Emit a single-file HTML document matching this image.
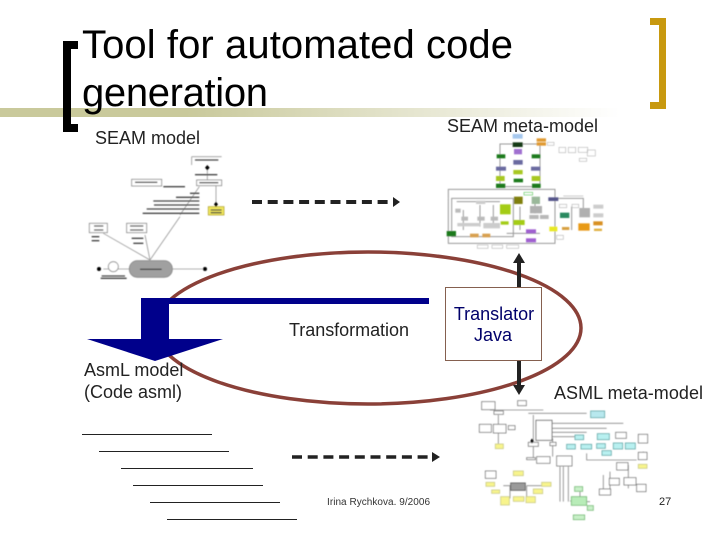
<!DOCTYPE html>
<html><head><meta charset="utf-8"><style>
html,body{margin:0;padding:0;background:#fff}
svg{display:block}
text{font-family:"Liberation Sans",sans-serif}
</style></head><body>
<svg width="720" height="540" viewBox="0 0 720 540" xmlns="http://www.w3.org/2000/svg">
<defs>
<linearGradient id="b" x1="0" x2="1" y1="0" y2="0"><stop offset="0" stop-color="#c9c99b"/><stop offset=".3" stop-color="#c9c99b"/><stop offset="1" stop-color="#fff"/></linearGradient>
<filter id="s" x="-5%" y="-5%" width="110%" height="110%"><feGaussianBlur stdDeviation="1.8"/></filter>
</defs>
<rect width="720" height="540" fill="#fff"/>
<rect x="0" y="108" width="620" height="9" fill="url(#b)"/>
<path d="M78 41H63V132H78V124H71V49H78Z" fill="#000"/>
<path d="M650 18H666V109H650V102H659V25H650Z" fill="#c8990f"/>
<text x="82" y="58" font-size="40" fill="#000" textLength="431">Tool for automated code</text>
<text x="82" y="106" font-size="40" fill="#000" textLength="186">generation</text>
<text x="95" y="144" font-size="18" fill="#222">SEAM model</text>
<text x="447" y="132" font-size="18" fill="#222" textLength="151">SEAM meta-model</text>

<!-- SEAM model thumbnail -->
<g transform="translate(80,150) scale(.3333)" filter="url(#s)" fill="#fff" stroke="#888" stroke-width="2.5">
<path d="M335 20V45M335 20H425M382 45V90M408 107V170M358 110L300 195M300 200L210 330M195 255L210 330M70 250L210 330M277 357H372M70 357H148" fill="none" stroke="#999"/>
<rect x="350" y="90" width="75" height="17"/><rect x="155" y="88" width="90" height="20"/>
<rect x="28" y="220" width="54" height="28"/><rect x="140" y="220" width="60" height="28"/>
<rect x="385" y="170" width="47" height="25" fill="#f2e85c" stroke="#b5a93a"/>
<rect x="148" y="332" width="129" height="50" rx="24" fill="#a0a0a0"/>
<circle cx="100" cy="350" r="15"/><circle cx="57" cy="357" r="6" fill="#000" stroke="none"/><circle cx="375" cy="357" r="6" fill="#000" stroke="none"/>
<path d="M382 45l7 8-7 8-7-8zM408 155l6 8-6 8-6-8z" fill="#000" stroke="none"/>
<g stroke="#444" stroke-width="4" fill="none">
<path d="M345 30H415M345 74H412M165 97H232M358 98H415M250 110H315M330 130H358M288 142H358M220 153H358M222 165H358M200 177H358M188 190H358M42 228H70M42 240H70M150 228H190M150 240H190M35 260H58M35 272H58M155 265H190M160 280H190M180 358H245M65 378H135M62 385H140M392 180H425M392 188H425"/>
</g></g>

<!-- SEAM meta-model thumbnail -->
<g transform="translate(440,130) scale(.3333)" filter="url(#s)" fill="none" stroke="#999" stroke-width="3">
<path d="M180 42H300V170H180ZM25 178H345V340H25ZM35 205H220V320H35ZM50 215H180M70 240H70V300M120 225V290M160 225V290M240 230V300M350 205H430V260M395 230V300M285 215V250M200 310H300"/>
<g stroke="none">
<rect x="218" y="12" width="30" height="14" fill="#a6c8ee"/><rect x="218" y="37" width="30" height="14" fill="#123a12"/><rect x="290" y="25" width="28" height="10" fill="#e09a30"/><rect x="290" y="37" width="28" height="10" fill="#e09a30"/><rect x="222" y="57" width="24" height="16" fill="#a070d0"/>
<rect x="170" y="73" width="26" height="12" fill="#1d7a1d"/><rect x="275" y="73" width="26" height="12" fill="#1d7a1d"/><rect x="220" y="90" width="28" height="14" fill="#6a6aa0"/><rect x="168" y="110" width="30" height="12" fill="#6a6aa0"/><rect x="273" y="110" width="28" height="12" fill="#6a6aa0"/>
<rect x="220" y="120" width="28" height="13" fill="#a8c820"/><rect x="168" y="138" width="26" height="15" fill="#a8c820"/><rect x="275" y="138" width="26" height="15" fill="#a8c820"/><rect x="221" y="146" width="28" height="11" fill="#1d7a1d"/><rect x="168" y="161" width="28" height="13" fill="#1d7a1d"/><rect x="276" y="161" width="26" height="13" fill="#1d7a1d"/>
<rect x="222" y="200" width="26" height="22" fill="#808010"/><rect x="275" y="200" width="25" height="22" fill="#9ab89a"/><rect x="325" y="202" width="30" height="11" fill="#55558a"/>
<rect x="180" y="223" width="32" height="30" fill="#a4cc18"/><rect x="270" y="228" width="36" height="22" fill="#b0b0b0"/><rect x="268" y="255" width="28" height="12" fill="#b8b8b8"/><rect x="300" y="255" width="26" height="12" fill="#b8b8b8"/>
<rect x="360" y="248" width="28" height="16" fill="#2a8a60"/><rect x="418" y="234" width="32" height="28" fill="#b0b0b0"/><rect x="415" y="280" width="34" height="22" fill="#e89a18"/><rect x="460" y="274" width="28" height="12" fill="#d89020"/><rect x="462" y="296" width="24" height="7" fill="#e0b040"/>
<rect x="220" y="270" width="34" height="15" fill="#a4cc18"/><rect x="182" y="274" width="24" height="10" fill="#a4cc18"/><rect x="258" y="298" width="30" height="12" fill="#a060d0"/><rect x="258" y="325" width="30" height="12" fill="#a060d0"/>
<rect x="20" y="303" width="28" height="16" fill="#1d7a1d"/><rect x="90" y="311" width="26" height="11" fill="#d8a050"/><rect x="127" y="311" width="24" height="11" fill="#d8a050"/>
<rect x="328" y="290" width="24" height="14" fill="#e8e820"/><rect x="366" y="291" width="22" height="9" fill="#d8a040"/>
<rect x="46" y="236" width="16" height="12" fill="#bbb"/><rect x="64" y="260" width="20" height="12" fill="#bbb"/><rect x="112" y="260" width="22" height="12" fill="#bbb"/><rect x="152" y="260" width="22" height="12" fill="#bbb"/><rect x="108" y="212" width="28" height="10" fill="#ccc"/><rect x="52" y="279" width="70" height="10" fill="#ccc"/><rect x="130" y="279" width="50" height="16" fill="#ccc"/>
<rect x="460" y="224" width="30" height="12" fill="#ccc"/><rect x="460" y="250" width="30" height="12" fill="#ccc"/>
</g>
<g stroke="#bbb" stroke-width="2">
<rect x="322" y="37" width="20" height="9"/><rect x="357" y="52" width="20" height="16"/><rect x="385" y="52" width="22" height="16"/><rect x="415" y="52" width="28" height="15"/><rect x="442" y="60" width="24" height="18"/><rect x="418" y="85" width="22" height="9"/><rect x="112" y="345" width="32" height="10"/><rect x="156" y="345" width="32" height="10"/><rect x="200" y="345" width="36" height="10"/><rect x="358" y="223" width="22" height="10"/><rect x="396" y="223" width="20" height="10"/><rect x="350" y="316" width="20" height="12"/><rect x="252" y="187" width="26" height="8" stroke="#6c6"/><path d="M370 198H430"/>
</g></g>

<!-- ASML meta-model thumbnail -->
<g transform="translate(470,395) scale(.3333)" filter="url(#s)" fill="none" stroke="#888" stroke-width="2.5">
<path d="M60 45H220M85 60V88M175 55H350M190 60V140M245 85H460M245 100H410M245 112H350M245 125H330M85 115V148M248 130V185M350 175V195H500M270 215V320M280 215V320M295 215V320M300 318H320M190 155V190M420 230V300M400 240V285M475 210V280M350 320H360M330 290V305M520 170V195M120 272V310M170 272V305M100 272H125M170 272H215"/>
<g fill="#fff" stroke="#777">
<rect x="35" y="20" width="40" height="24"/><rect x="143" y="17" width="26" height="15"/><rect x="72" y="48" width="28" height="10"/><rect x="28" y="88" width="36" height="24"/><rect x="70" y="88" width="38" height="26"/><rect x="115" y="92" width="20" height="12"/>
<rect x="198" y="76" width="48" height="60" stroke-width="3"/><rect x="175" y="142" width="30" height="12"/><rect x="240" y="142" width="18" height="10"/><rect x="200" y="185" width="40" height="20"/><rect x="260" y="183" width="46" height="30"/>
<rect x="170" y="188" width="26" height="6"/><rect x="440" y="203" width="34" height="22"/><rect x="418" y="250" width="30" height="20"/><rect x="462" y="248" width="36" height="22"/><rect x="388" y="282" width="34" height="18"/><rect x="500" y="268" width="28" height="22"/><rect x="505" y="118" width="28" height="26"/><rect x="505" y="172" width="26" height="22"/><rect x="437" y="112" width="32" height="18"/><rect x="46" y="228" width="32" height="22"/>
</g>
<g stroke="#6aa">
<rect x="362" y="48" width="42" height="20" fill="#b8e8ee"/><rect x="315" y="120" width="26" height="14" fill="#b8f0f0"/><rect x="382" y="116" width="36" height="18" fill="#b8f0f0"/><rect x="290" y="148" width="26" height="14" fill="#b8f0f0"/><rect x="333" y="148" width="32" height="14" fill="#b8f0f0"/><rect x="380" y="146" width="26" height="14" fill="#b8f0f0"/><rect x="430" y="144" width="28" height="18" fill="#b8f0f0"/><rect x="466" y="144" width="30" height="18" fill="#b8f0f0"/><rect x="396" y="167" width="28" height="14" fill="#b8f0f0"/>
</g>
<g stroke="#cc8" fill="#f8f48c">
<rect x="76" y="147" width="24" height="14"/><rect x="130" y="228" width="30" height="14"/><rect x="48" y="262" width="26" height="12"/><rect x="215" y="262" width="28" height="12"/><rect x="505" y="208" width="26" height="12"/><rect x="65" y="285" width="24" height="10"/><rect x="92" y="305" width="26" height="25"/><rect x="130" y="305" width="32" height="14"/><rect x="168" y="305" width="28" height="18"/><rect x="190" y="282" width="28" height="14"/>
</g>
<rect x="122" y="264" width="44" height="22" fill="#9a9a9a" stroke="#555"/>
<g stroke="#7b7">
<rect x="314" y="275" width="24" height="14" fill="#c8f0c8"/><rect x="304" y="305" width="46" height="26" fill="#b8ecb8"/><rect x="352" y="332" width="18" height="14" fill="#c8f0c8"/><rect x="310" y="360" width="34" height="14" fill="#c8f0c8"/>
</g>
<path d="M186 130l5 8-5 8-5-8z" fill="#000" stroke="none"/>
</g>

<!-- Ellipse -->
<ellipse cx="368" cy="328" rx="213" ry="76" fill="none" stroke="#8a4038" stroke-width="3.5"/>

<!-- Blue arrow -->
<path d="M141 298H429V304H169V339H223L155 361L87 339H141Z" fill="#00008b"/>

<!-- Double arrow -->
<path d="M519 253L525 263H521V287H517V263H513Z" fill="#222"/>
<path d="M519 395L525 385H521V360H517V385H513Z" fill="#222"/>

<!-- Translator box -->
<rect x="445.5" y="287.5" width="96" height="73" fill="#fff" stroke="#85604f"/>
<text x="494" y="320" font-size="18" fill="#00006a" text-anchor="middle">Translator</text>
<text x="493" y="341" font-size="18" fill="#00006a" text-anchor="middle">Java</text>

<text x="289" y="336" font-size="18" fill="#222" textLength="120">Transformation</text>
<text x="84" y="376" font-size="18" fill="#222">AsmL model</text>
<text x="84" y="398" font-size="18" fill="#222">(Code asml)</text>
<text x="554" y="399" font-size="18" fill="#222" textLength="149">ASML meta-model</text>

<!-- Dashed arrows -->
<line x1="252" y1="202" x2="393" y2="202" stroke="#222" stroke-width="4" stroke-dasharray="10 5.7"/>
<path d="M393 197L400 202L393 207Z" fill="#222"/>
<line x1="292" y1="457" x2="432" y2="457" stroke="#222" stroke-width="3.5" stroke-dasharray="10 5.7"/>
<path d="M432 452L440 457L432 462Z" fill="#222"/>

<!-- Underlines -->
<g stroke="#222" stroke-width="1">
<line x1="82" y1="434.5" x2="212" y2="434.5"/>
<line x1="99" y1="451.5" x2="229" y2="451.5"/>
<line x1="121" y1="468.5" x2="253" y2="468.5"/>
<line x1="133" y1="485.5" x2="263" y2="485.5"/>
<line x1="150" y1="502.5" x2="280" y2="502.5"/>
<line x1="167" y1="519.5" x2="297" y2="519.5"/>
</g>

<text x="327" y="505" font-size="10" fill="#333" textLength="103">Irina Rychkova. 9/2006</text>
<text x="659" y="505" font-size="11" fill="#222">27</text>
</svg>
</body></html>
